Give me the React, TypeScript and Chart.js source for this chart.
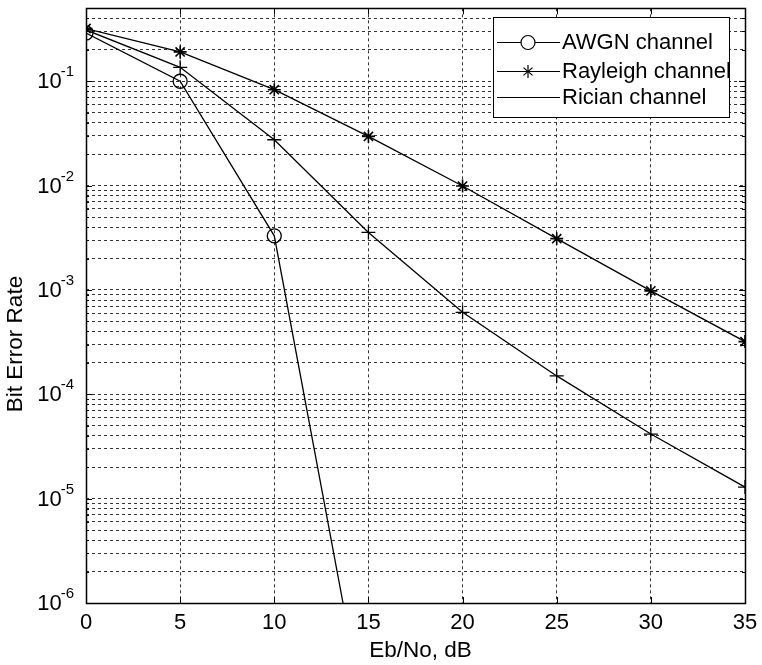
import React, { useEffect, useRef } from 'react';
import { Chart, registerables } from 'chart.js';
Chart.register(...registerables);

const ebnoDb = [0, 5, 10, 15, 20, 25, 30, 35];
const awgnEbno = [0, 5, 10, 15];
const awgnBer = [0.29, 0.1, 0.0033, 5e-8];
const rayleighBer = [0.32, 0.191, 0.083, 0.0296, 0.0099, 0.0031, 0.00098, 0.00032];
const ricianBer = [0.31, 0.136, 0.0275, 0.00356, 0.00061, 0.00015, 4.16e-5, 1.29e-5];
const seriesNames = ['AWGN channel', 'Rayleigh channel', 'Rician channel'];
const xTickValues = [0, 5, 10, 15, 20, 25, 30, 35];
const yDecades = [-6, -5, -4, -3, -2, -1];
const xTitle = 'Eb/No, dB';
const yTitle = 'Bit Error Rate';

const FONT = '"Liberation Sans", Arial, Helvetica, sans-serif';

function yTickValues(): number[] {
  const out: number[] = [];
  for (const d of yDecades) {
    for (let m = 1; m <= 9; m++) {
      const v = m * Math.pow(10, d);
      if (v <= 0.5 + 1e-12) out.push(v);
    }
  }
  return out;
}

const framePlugin = {
  id: 'matlabFrame',
  afterDraw(chart: any) {
    const { ctx, chartArea: a, scales } = chart;
    const xs = scales.x;
    const ys = scales.y;
    const line = (x1: number, y1: number, x2: number, y2: number) => {
      ctx.beginPath();
      ctx.moveTo(x1, y1);
      ctx.lineTo(x2, y2);
      ctx.stroke();
    };
    ctx.save();
    ctx.setLineDash([]);
    ctx.strokeStyle = '#000';
    ctx.lineWidth = 1;
    for (const v of xTickValues) {
      const px = Math.round(xs.getPixelForValue(v)) + 0.5;
      line(px, a.bottom, px, a.bottom - 6);
      line(px, a.top, px, a.top + 6);
    }
    for (const v of yTickValues()) {
      const py = Math.round(ys.getPixelForValue(v)) + 0.5;
      const major = Math.abs(Math.log10(v) - Math.round(Math.log10(v))) < 1e-9;
      const len = major ? 6 : 3;
      line(a.left, py, a.left + len, py);
      line(a.right, py, a.right - len, py);
    }
    ctx.lineWidth = 1.5;
    ctx.strokeRect(Math.round(a.left) + 0.5, Math.round(a.top) + 0.5, Math.round(a.right - a.left), Math.round(a.bottom - a.top));

    ctx.fillStyle = '#000';
    ctx.font = `22px ${FONT}`;
    ctx.textAlign = 'center';
    ctx.textBaseline = 'middle';
    for (const v of xTickValues) {
      ctx.fillText(String(v), xs.getPixelForValue(v), a.bottom + 20);
    }
    for (const d of yDecades) {
      const py = ys.getPixelForValue(Math.pow(10, d));
      const sup = String(d);
      ctx.font = `15px ${FONT}`;
      const wSup = ctx.measureText(sup).width;
      const supRight = a.left - 12;
      ctx.textAlign = 'left';
      ctx.textBaseline = 'alphabetic';
      ctx.fillText(sup, supRight - wSup, py - 5);
      ctx.font = `22px ${FONT}`;
      ctx.textAlign = 'right';
      ctx.textBaseline = 'middle';
      ctx.fillText('10', supRight - wSup + 1, py + 1);
    }
    ctx.font = `22.5px ${FONT}`;
    ctx.textAlign = 'center';
    ctx.textBaseline = 'middle';
    ctx.fillText(xTitle, (a.left + a.right) / 2 + 5, a.bottom + 48);
    ctx.save();
    ctx.translate(16, 344);
    ctx.rotate(-Math.PI / 2);
    ctx.fillText(yTitle, 0, 0);
    ctx.restore();

    const lx = 493, ly = 17, lw = 236, lh = 100;
    ctx.fillStyle = '#fff';
    ctx.fillRect(lx, ly, lw, lh);
    ctx.strokeStyle = '#000';
    ctx.lineWidth = 1;
    ctx.strokeRect(lx + 0.5, ly + 0.5, lw, lh);
    const rows = [42, 71, 97];
    for (let i = 0; i < 3; i++) {
      const ry = rows[i] + 0.5;
      ctx.lineWidth = 1.2;
      line(497, ry, 560, ry);
      const mx = 528;
      if (i === 0) {
        ctx.fillStyle = '#fff';
        ctx.beginPath();
        ctx.arc(mx, ry, 7, 0, Math.PI * 2);
        ctx.fill();
        ctx.stroke();
      } else if (i === 1) {
        const r = 6.5;
        line(mx, ry - r, mx, ry + r);
        line(mx - r * 0.7, ry - r * 0.6, mx + r * 0.7, ry + r * 0.6);
        line(mx - r * 0.7, ry + r * 0.6, mx + r * 0.7, ry - r * 0.6);
      }
      ctx.fillStyle = '#000';
      ctx.font = `22px ${FONT}`;
      ctx.textAlign = 'left';
      ctx.textBaseline = 'middle';
      ctx.fillText(seriesNames[i], 562, rows[i] + 1);
    }
    ctx.restore();
  },
};

export default function App() {
  const ref = useRef<HTMLCanvasElement | null>(null);
  useEffect(() => {
    if (!ref.current) return;
    const gridColor = '#333';
    const chart = new Chart(ref.current, {
      type: 'line',
      data: {
        datasets: [
          {
            label: seriesNames[0],
            data: awgnEbno.map((x, i) => ({ x, y: awgnBer[i] })),
            borderColor: '#000',
            borderWidth: 1.3,
            pointStyle: 'circle',
            pointRadius: 7,
            pointBorderWidth: 1.3,
            pointBorderColor: '#000',
            pointBackgroundColor: 'rgba(255,255,255,0)',
            tension: 0,
          },
          {
            label: seriesNames[1],
            data: ebnoDb.map((x, i) => ({ x, y: rayleighBer[i] })),
            borderColor: '#000',
            borderWidth: 1.3,
            pointStyle: 'star',
            pointRadius: 6.5,
            pointBorderWidth: 1.6,
            pointBorderColor: '#000',
            pointBackgroundColor: '#000',
            tension: 0,
          },
          {
            label: seriesNames[2],
            data: ebnoDb.map((x, i) => ({ x, y: ricianBer[i] })),
            borderColor: '#000',
            borderWidth: 1.3,
            pointStyle: 'cross',
            pointRadius: 7,
            pointBorderWidth: 1.3,
            pointBorderColor: '#000',
            pointBackgroundColor: '#000',
            tension: 0,
          },
        ],
      },
      options: {
        responsive: false,
        animation: false,
        events: [],
        layout: { padding: { left: 0, right: 17, top: 5, bottom: 0 } },
        plugins: { legend: { display: false }, tooltip: { enabled: false }, title: { display: false } },
        scales: {
          x: {
            type: 'linear',
            min: 0,
            max: 35,
            afterBuildTicks: (scale: any) => {
              scale.ticks = xTickValues.map((v) => ({ value: v }));
            },
            afterFit: (scale: any) => {
              scale.height = 62;
            },
            ticks: { display: false },
            grid: { color: gridColor, lineWidth: 1, drawTicks: false },
            border: { display: false, dash: [3, 3] },
          },
          y: {
            type: 'logarithmic',
            min: 1e-6,
            max: 0.5,
            afterBuildTicks: (scale: any) => {
              scale.ticks = yTickValues().map((v) => ({ value: v }));
            },
            afterFit: (scale: any) => {
              scale.width = 86;
            },
            ticks: { display: false },
            grid: { color: gridColor, lineWidth: 1, drawTicks: false },
            border: { display: false, dash: [3, 3] },
          },
        },
      } as any,
      plugins: [framePlugin],
    });
    return () => chart.destroy();
  }, []);
  return (
    <div style={{ position: 'absolute', left: 0, top: 0, width: 762, height: 665, background: '#fff' }}>
      <canvas ref={ref} width={762} height={665} />
    </div>
  );
}
